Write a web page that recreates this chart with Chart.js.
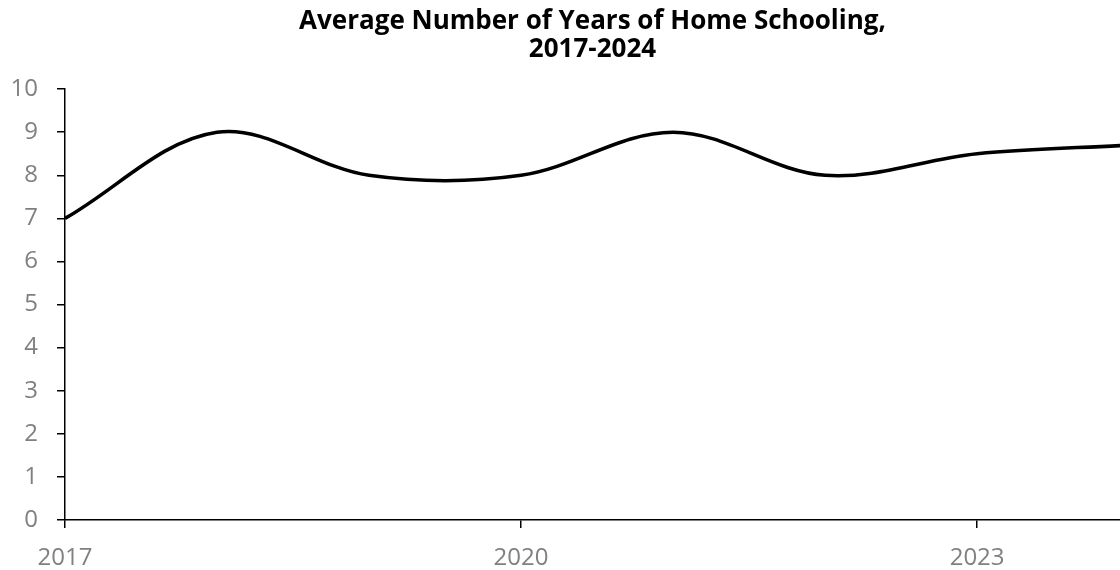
<!DOCTYPE html>
<html>
<head>
<meta charset="utf-8">
<title>Average Number of Years of Home Schooling</title>
<script src="https://cdn.jsdelivr.net/npm/chart.js@4"></script>
<style>
    body { margin: 0; background: #ffffff; }
    #wrap { width: 1120px; height: 570px; position: relative; }
</style>
</head>
<body>
<div id="wrap"><canvas id="myChart"></canvas></div>
<script>
// data
const years = [2017, 2018, 2019, 2020, 2021, 2022, 2023, 2024];
const avgYears = [7, 9, 8, 8, 9, 8, 8.5, 8.7];
const xTickYears = [2017, 2020, 2023];
const titleLines = ['Average Number of Years of Home Schooling,', '2017-2024'];

const fontFamily = "'Open Sans', 'Liberation Sans', sans-serif";

const ctx = document.getElementById('myChart').getContext('2d');

const myChart = new Chart(ctx, {
    type: 'line',
    data: {
        datasets: [{
            data: years.map((y, i) => ({ x: y, y: avgYears[i] })),
            borderColor: '#000000',
            borderWidth: 3.5,
            pointRadius: 0,
            tension: 0.35,
            fill: false
        }]
    },
    options: {
        responsive: true,
        maintainAspectRatio: false,
        animation: false,
        layout: {
            padding: { left: 0, right: 0, top: 4, bottom: 0 }
        },
        scales: {
            x: {
                type: 'linear',
                min: 2017,
                max: 2023.94, // the picture is cut just before 2024
                afterBuildTicks: axis => {
                    axis.ticks = xTickYears.map(v => ({ value: v }));
                },
                afterFit: axis => { axis.height = 50; },
                ticks: {
                    color: '#808080',
                    padding: 16,
                    maxRotation: 0,
                    font: { size: 24, family: fontFamily },
                    callback: v => String(v)
                },
                grid: {
                    drawOnChartArea: false,
                    drawTicks: true,
                    tickLength: 8,
                    color: '#000000',
                    lineWidth: 1.5
                },
                border: { color: '#000000', width: 1.5 }
            },
            y: {
                min: 0,
                max: 10,
                afterFit: axis => { axis.width = 65; },
                ticks: {
                    stepSize: 1,
                    color: '#808080',
                    padding: 19,
                    font: { size: 24, family: fontFamily }
                },
                grid: {
                    drawOnChartArea: false,
                    drawTicks: true,
                    tickLength: 8,
                    color: '#000000',
                    lineWidth: 1.5
                },
                border: { color: '#000000', width: 1.5 }
            }
        },
        plugins: {
            legend: { display: false },
            tooltip: { enabled: false },
            title: {
                display: true,
                fullSize: false, // centre over the plot area, not the whole canvas
                text: titleLines,
                color: '#000000',
                font: { size: 26, weight: 'bold', family: fontFamily, lineHeight: 1.06 },
                padding: { top: 4, bottom: 26 }
            }
        }
    }
});
</script>
</body>
</html>
